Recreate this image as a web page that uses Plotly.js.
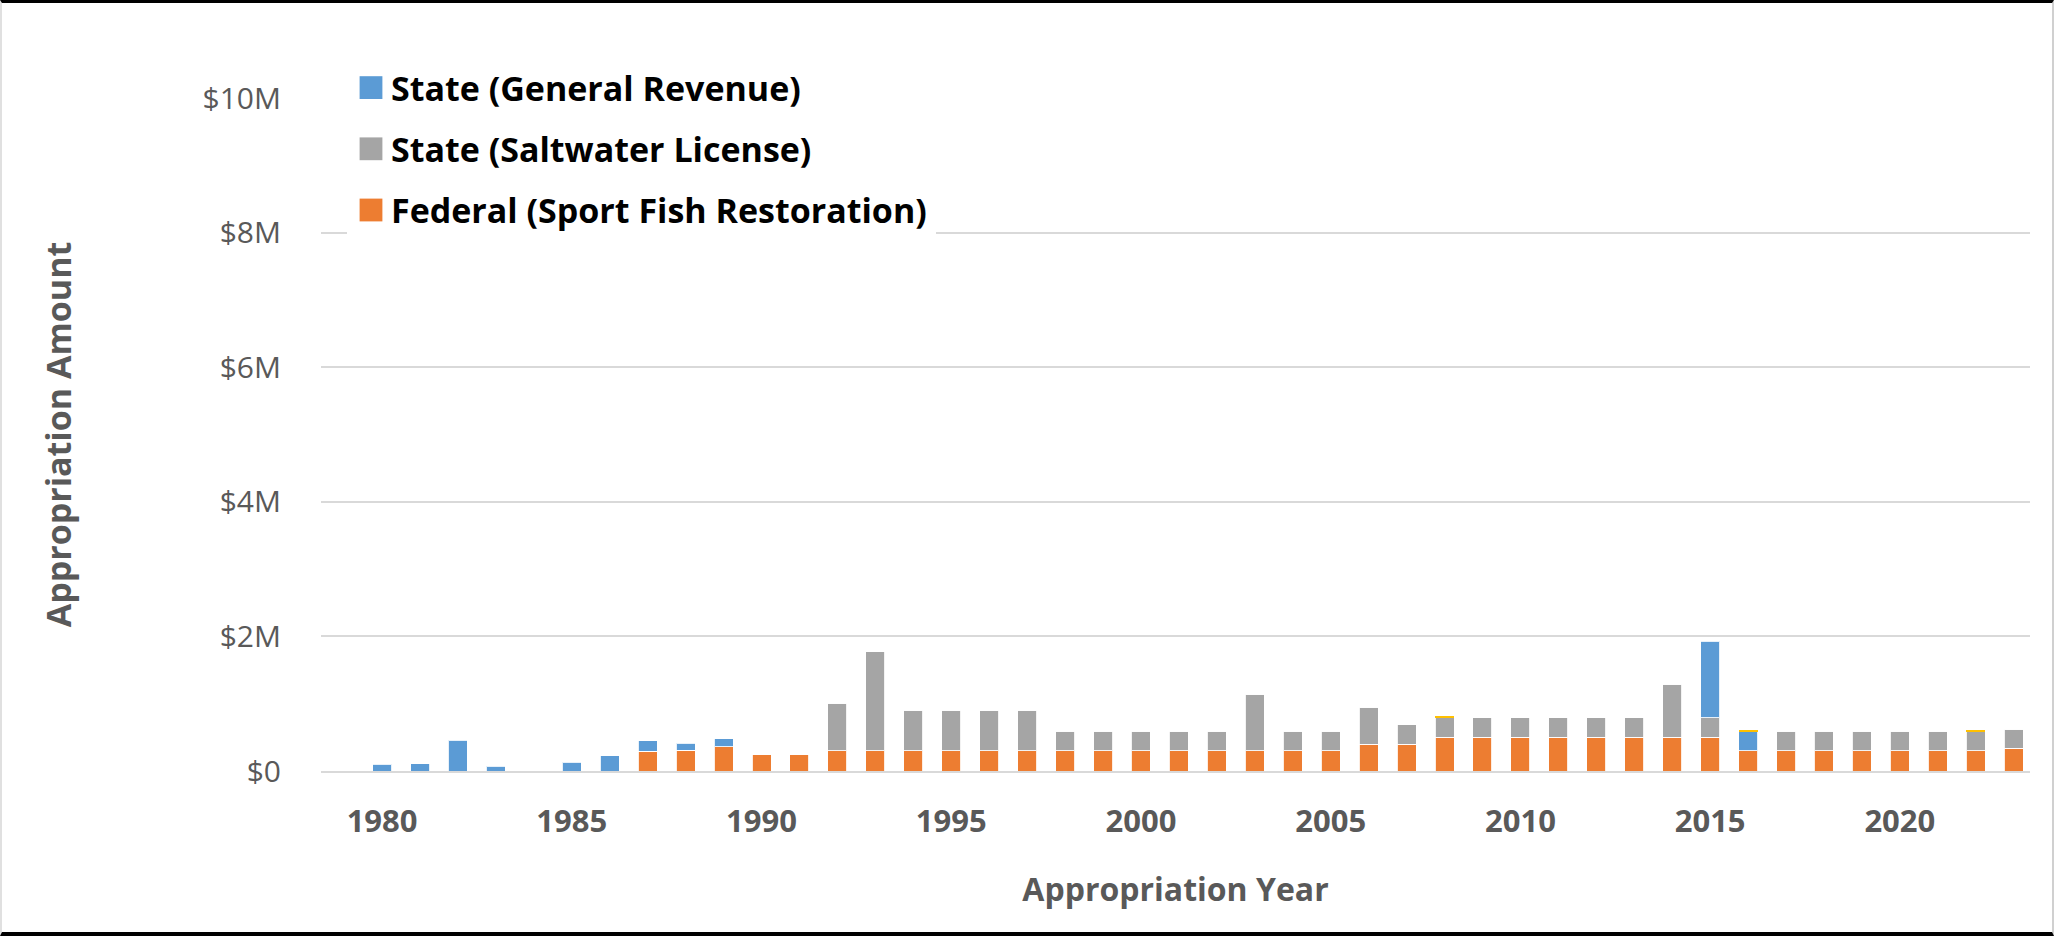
<!DOCTYPE html>
<html>
<head>
<meta charset="utf-8">
<script src="https://cdn.plot.ly/plotly-3.0.1.min.js"></script>
<style>
  html, body { margin: 0; padding: 0; background: #ffffff; }
  #wrap { position: relative; width: 2054px; height: 936px; }
  #chart { width: 2054px; height: 936px; }
  #frame { position: absolute; left: 0; top: 0; width: 2054px; height: 936px; box-sizing: border-box;
           border-top: 3px solid #000; border-bottom: 4px solid #000; border-left: 2px solid #e0e0e0; border-right: 2px solid #d0d0d0;
           pointer-events: none; }
</style>
</head>
<body>
<div id="wrap"><div id="chart"></div><div id="frame"></div></div>
<script>
// Appropriation years
const years = [1980,1981,1982,1983,1984,1985,1986,1987,1988,1989,1990,1991,1992,1993,1994,1995,1996,1997,1998,1999,2000,2001,2002,2003,2004,2005,2006,2007,2008,2009,2010,2011,2012,2013,2014,2015,2016,2017,2018,2019,2020,2021,2022,2023];

// Values in millions of dollars
const federalSportFish = [0,0,0,0,0,0,0,0.29,0.31,0.36,0.25,0.24,0.30,0.30,0.30,0.30,0.30,0.30,0.30,0.30,0.30,0.30,0.30,0.30,0.30,0.30,0.40,0.40,0.50,0.50,0.50,0.50,0.50,0.50,0.50,0.50,0.30,0.30,0.30,0.30,0.30,0.30,0.30,0.34];
const stateSaltwater   = [0,0,0,0,0,0,0,0,0,0,0,0,0.71,1.47,0.60,0.60,0.60,0.60,0.29,0.29,0.29,0.29,0.29,0.84,0.29,0.29,0.55,0.29,0.29,0.29,0.29,0.29,0.29,0.29,0.79,0.29,0,0.29,0.29,0.29,0.29,0.29,0.29,0.28];
const stateGeneral     = [0.10,0.11,0.46,0.07,0,0.13,0.23,0.16,0.10,0.12,0,0,0,0,0,0,0,0,0,0,0,0,0,0,0,0,0,0,0,0,0,0,0,0,0,1.14,0.29,0,0,0,0,0,0,0];
const otherSmall       = [0,0,0,0,0,0,0,0,0,0,0,0,0,0,0,0,0,0,0,0,0,0,0,0,0,0,0,0,0.02,0,0,0,0,0,0,0,0.02,0,0,0,0,0,0.02,0];

// Axis ticks
const yTickVals = [0,2,4,6,8,10];
const yTickText = ["$0","$2M","$4M","$6M","$8M","$10M"];
const xTickVals = [1980,1985,1990,1995,2000,2005,2010,2015,2020];
const xTickText = ["1980","1985","1990","1995","2000","2005","2010","2015","2020"];

const seriesNames = ["Federal (Sport Fish Restoration)","State (Saltwater License)","State (General Revenue)"];

const barLine = {color: "rgba(255,255,255,0.85)", width: 1};
const hoverT = "%{x}: $%{y:.2f}M<extra>%{fullData.name}</extra>";

const traces = [
  {type:"bar", name: seriesNames[0], x: years, y: federalSportFish, legendgroup:"g1", legendrank: 3,
   marker:{color:"#ED7D31", line: barLine}, hovertemplate: hoverT},
  {type:"bar", name: seriesNames[1], x: years, y: stateSaltwater, legendgroup:"g2", legendrank: 2,
   marker:{color:"#A5A5A5", line: barLine}, hovertemplate: hoverT},
  {type:"bar", name: seriesNames[2], x: years, y: stateGeneral, legendgroup:"g3", legendrank: 1,
   marker:{color:"#5B9BD5", line: barLine}, hovertemplate: hoverT},
  {type:"bar", name: "Other", x: years, y: otherSmall, showlegend:false,
   marker:{color:"#FFC000", line:{width:0}}, hovertemplate: hoverT}
];

const W = 2054, H = 936;
const mL = 321, mR = 24, mT = 98, mB = 165;
const pw = W - mL - mR, ph = H - mT - mB;
const layout = {
  width: W, height: H,
  paper_bgcolor: "#ffffff", plot_bgcolor: "#ffffff",
  margin: {l: mL, r: mR, t: mT, b: mB, autoexpand: false},
  barmode: "stack",
  bargap: 0.5,
  showlegend: true,
  legend: {
    x: (347 - mL) / pw, y: 1 + (mT - 55) / ph, xanchor: "left", yanchor: "top",
    traceorder: "grouped",
    tracegroupgap: 14,
    bgcolor: "#ffffff", bordercolor: "#ffffff", borderwidth: 4,
    font: {family: "Open Sans, sans-serif", size: 34, color: "#000000", weight: "bold"}
  },
  xaxis: {
    automargin: false,
    range: [1978.39, 2023.43],
    tickmode: "array", tickvals: xTickVals, ticktext: xTickText,
    showgrid: false, zeroline: false,
    showline: true, linecolor: "#D9D9D9", linewidth: 2,
    ticks: "", ticklabelstandoff: 22,
    tickfont: {family: "Open Sans, sans-serif", size: 31, color: "#595959", weight: "bold"},
    title: {text: "Appropriation Year", standoff: 38,
            font: {family: "Open Sans, sans-serif", size: 32, color: "#595959", weight: "bold"}},
    fixedrange: true
  },
  yaxis: {
    automargin: false,
    range: [0, 10],
    tickmode: "array", tickvals: yTickVals, ticktext: yTickText,
    showgrid: true, gridcolor: "#D9D9D9", gridwidth: 1.5,
    zeroline: false, showline: false, ticks: "",
    ticklabelstandoff: 39,
    tickfont: {family: "Open Sans, sans-serif", size: 30, color: "#595959"},
    title: {text: "Appropriation Amount", standoff: 120,
            font: {family: "Open Sans, sans-serif", size: 34, color: "#595959", weight: "bold"}},
    fixedrange: true
  },
  hovermode: "closest"
};

Plotly.newPlot("chart", traces, layout, {displayModeBar: false, responsive: false}).then(function(gd){
  // enlarge legend swatches to match the reference's bigger squares (keep Plotly's own offset)
  gd.querySelectorAll(".legend .legendpoints path").forEach(function(p){
    const t = p.getAttribute("transform") || "";
    p.setAttribute("transform", t + " scale(1.9)");
    p.style.strokeWidth = "0px";
  });
});
</script>
</body>
</html>
